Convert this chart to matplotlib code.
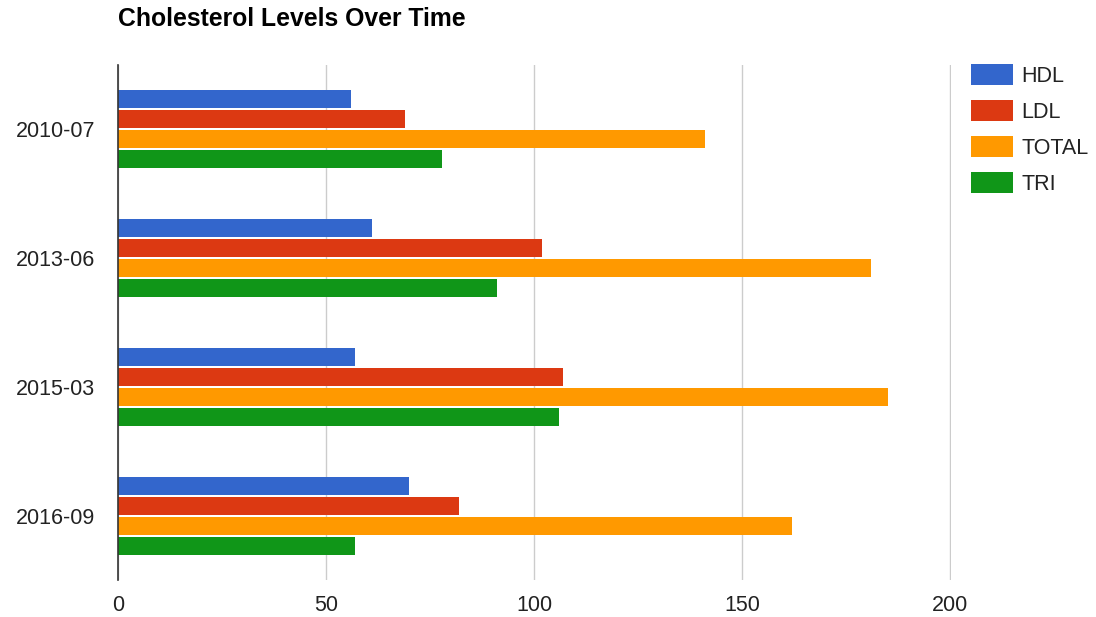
import matplotlib

matplotlib.use("Agg")

import matplotlib.pyplot as plt
import numpy as np

plt.rcParams["font.family"] = ["Liberation Sans", "DejaVu Sans"]

# Lipid panel readings per visit (mg/dL).
visits = ["2010-07", "2013-06", "2015-03", "2016-09"]
series_names = ["HDL", "LDL", "TOTAL", "TRI"]
hdl = [56, 61, 57, 70]
ldl = [69, 102, 107, 82]
total = [141, 181, 185, 162]
tri = [78, 91, 106, 57]
x_ticks = [0, 50, 100, 150, 200]

colors = ["#3366cc", "#dc3912", "#ff9900", "#109618"]

W, H = 1096, 617
fig = plt.figure(figsize=(W / 100, H / 100), dpi=100)
ax = fig.add_axes([118 / W, 37 / H, 833 / W, 515 / H])

y = np.arange(len(visits))
step = 0.155
bar_h = 0.14
offsets = (np.arange(len(series_names)) - 1.5) * step
for name, values, color, off in zip(series_names, [hdl, ldl, total, tri], colors, offsets):
    ax.barh(y + off, values, height=bar_h, color=color, label=name, zorder=3)

# a hair of headroom so the 200 gridline is not clipped at the edge
ax.set_xlim(0, 200.25)
ax.set_ylim(len(visits) - 0.5, -0.5)
ax.set_yticks(y)
ax.set_yticklabels(visits)
ax.set_xticks(x_ticks)
ax.tick_params(axis="both", length=0, labelsize=15.5, colors="#222222")
ax.tick_params(axis="x", pad=11)
ax.tick_params(axis="y", pad=16.5)

ax.grid(axis="x", color="#cccccc", linewidth=1, zorder=0)
for side in ("top", "right", "bottom"):
    ax.spines[side].set_visible(False)
ax.spines["left"].set_color("#333333")
ax.spines["left"].set_linewidth(1.2)
ax.spines["left"].set_zorder(4)

fig.text(118 / W, 1 - 19 / H, "Cholesterol Levels Over Time", fontsize=17.8,
         fontweight="bold", color="#000000", ha="left", va="center")

ax.legend(loc="upper left", bbox_to_anchor=(971 / W, 1 - 64 / H),
          bbox_transform=fig.transFigure, frameon=False, fontsize=15.5,
          handlelength=1.95, handleheight=1.15, handletextpad=0.38,
          labelspacing=0.6, borderpad=0, borderaxespad=0, labelcolor="#222222")

fig.savefig("out.png", dpi=100, facecolor="white")
